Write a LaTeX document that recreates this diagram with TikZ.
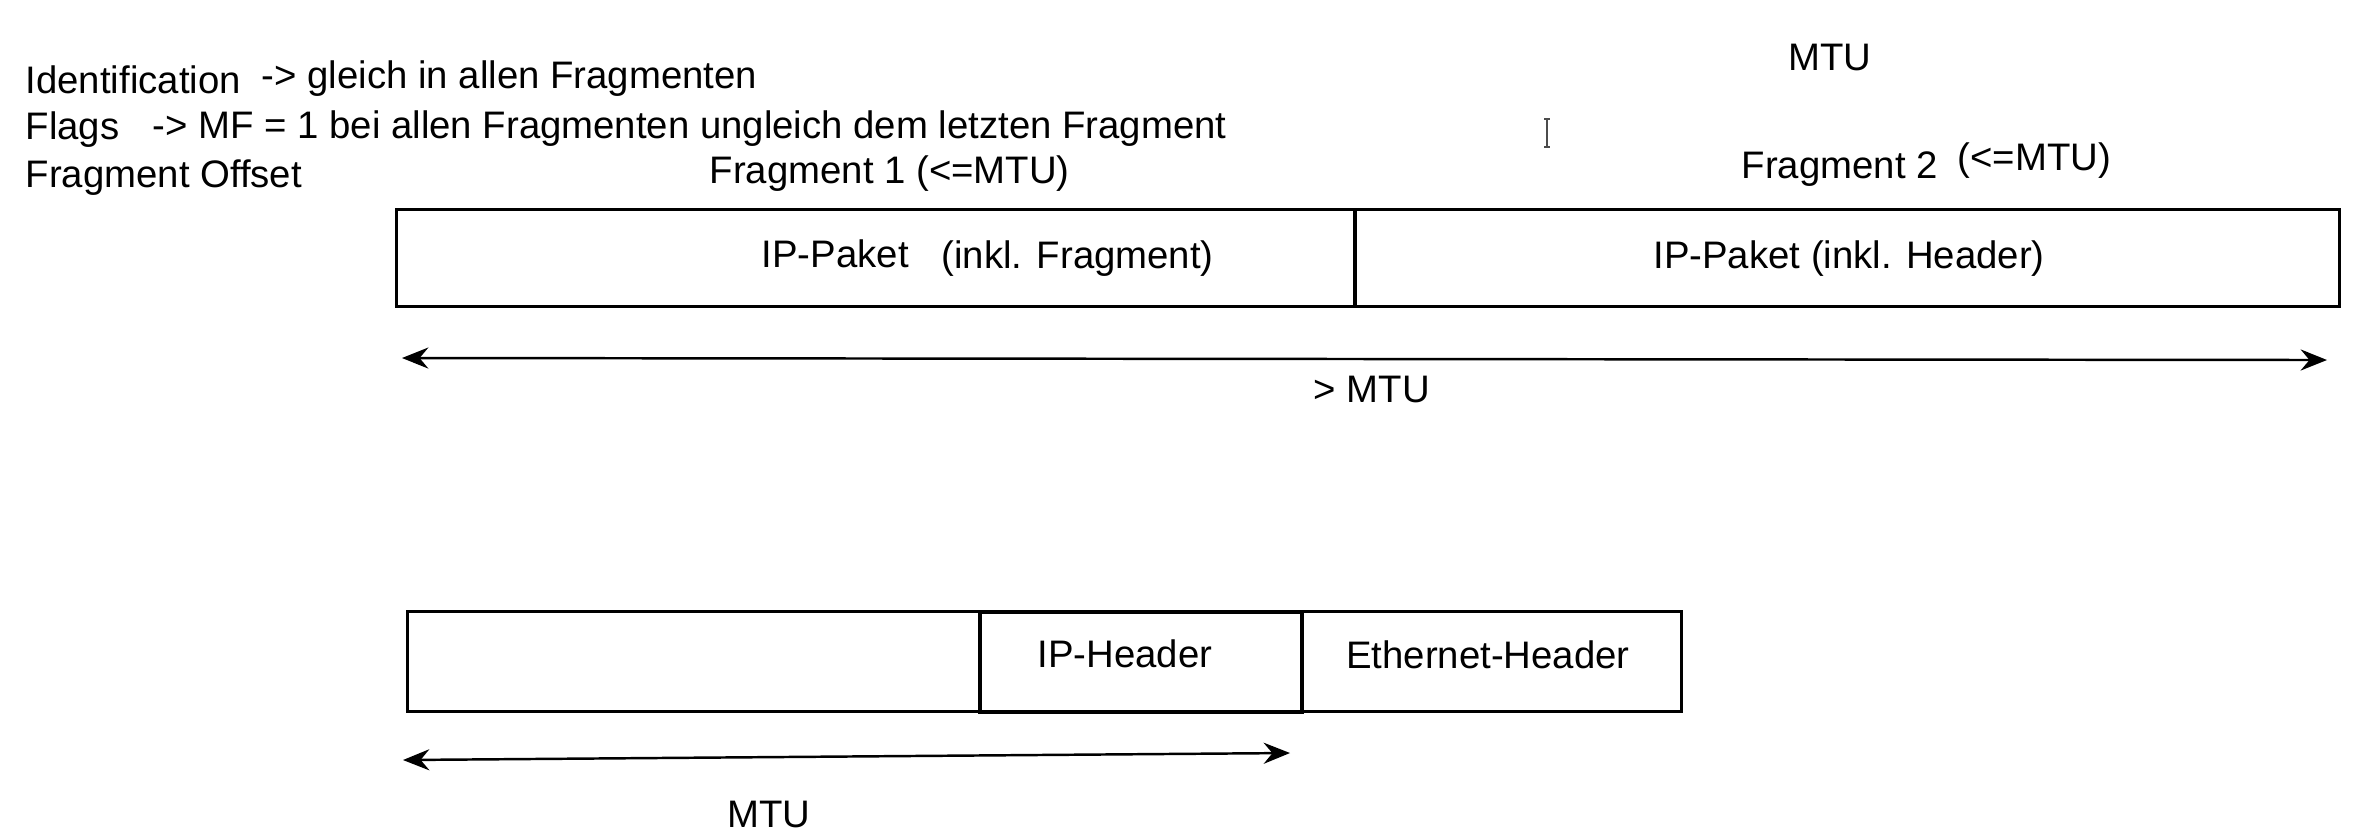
\documentclass[tikz,border=0pt]{standalone}
\usepackage{fontspec}
\setmainfont{Liberation Sans}
\usetikzlibrary{arrows.meta}
\tikzset{
  txt/.style={inner sep=0pt, font=\fontsize{10.9}{13}\selectfont},
  cell/.style={draw=black, line width=0.85pt, inner sep=0pt, anchor=north west},
  dimarrow/.style={line width=0.7pt, {Stealth[length=7.5pt,width=6pt,inset=2.5pt]}-{Stealth[length=7.5pt,width=6pt,inset=2.5pt]}}
}
\begin{document}
\begin{tikzpicture}[x=0.01cm, y=-0.01cm]
\useasboundingbox (0,0) rectangle (2355,838);
% text block top left
\node[txt, anchor=base west] (ident) at (25,93) {Identification};
\node[txt, anchor=base west] (identtxt) at (261,88) {-> gleich in allen Fragmenten};
\node[txt, anchor=base west] (flags) at (25,139) {Flags};
\node[txt, anchor=base west] (flagstxt) at (152,138) {-> MF = 1 bei allen Fragmenten ungleich dem letzten Fragment};
\node[txt, anchor=base west] (offset) at (25,187) {Fragment Offset};
% top labels
\node[txt, anchor=base] (mtutop) at (1830,70) {MTU};
\node[txt, anchor=base west] (frag1) at (709,183) {Fragment 1 (<=MTU)};
\node[txt, anchor=base west] (frag2) at (1741,178) {Fragment 2};
\node[txt, anchor=base west] (frag2b) at (1957,170) {(<=MTU)};
% text cursor
\draw[black!70, line width=0.5pt] (1544,119) -- (1550,119) (1547,119) -- (1547,147) (1544,147) -- (1550,147);
% top packet
\node[cell, minimum width=9.58cm, minimum height=0.97cm] (p1) at (395,208) {};
\node[cell, minimum width=9.84cm, minimum height=0.97cm] (p2) at (1353,208) {};
\node[txt, anchor=base west] (p1a) at (761,267) {IP-Paket};
\node[txt, anchor=base west] (p1b) at (941,268) {(inkl. Fragment)};
\node[txt, anchor=base] (p2a) at (1849,268) {IP-Paket (inkl. Header)};
% top dimension arrow
\coordinate (a1) at (402,358);
\coordinate (a2) at (2327,360);
\draw[dimarrow] (a1) -- (a2);
\node[txt, anchor=base west] (gtmtu) at (1313,402) {> MTU};
% bottom frame
\node[cell, minimum width=5.72cm, minimum height=1.0cm] (b1) at (406,610) {};
\node[cell, minimum width=3.22cm, minimum height=1.0cm, line width=1.1pt] (b2) at (978,610) {};
\node[cell, minimum width=3.80cm, minimum height=1.0cm] (b3) at (1300,610) {};
\node[txt, anchor=base] (iph) at (1125,667) {IP-Header};
\node[txt, anchor=base] (eth) at (1488,668) {Ethernet-Header};
% bottom dimension arrow
\coordinate (c1) at (403,760);
\coordinate (c2) at (1290,753);
\draw[dimarrow] (c1) -- (c2);
\node[txt, anchor=base] (mtubot) at (769,827) {MTU};
\end{tikzpicture}
\end{document}
